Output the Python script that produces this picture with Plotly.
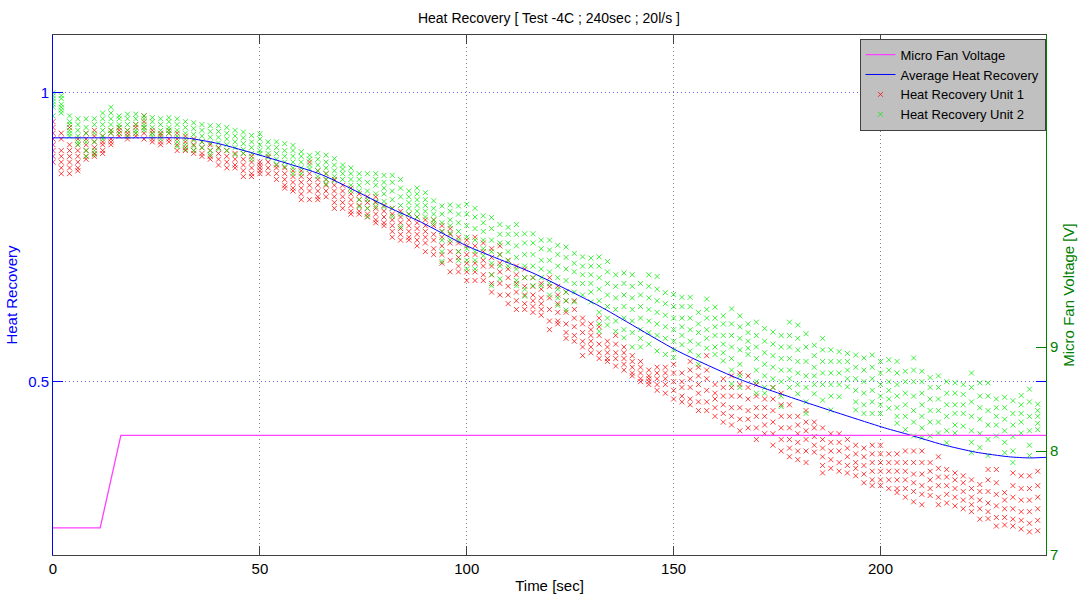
import plotly.graph_objects as go

# ---------------- data ----------------
sample_times = [0, 2, 4, 6, 8, 10, 12, 14, 16, 18, 20, 22, 24, 26, 28, 30, 32, 34, 36, 38,
                40, 42, 44, 46, 48, 50, 52, 54, 56, 58, 60, 62, 64, 66, 68, 70, 72, 74, 76, 78,
                80, 82, 84, 86, 88, 90, 92, 94, 96, 98, 100, 102, 104, 106, 108, 110, 112, 114, 116, 118,
                120, 122, 124, 126, 128, 130, 132, 134, 136, 138, 140, 142, 144, 146, 148, 150, 152, 154, 156, 158,
                160, 162, 164, 166, 168, 170, 172, 174, 176, 178, 180, 182, 184, 186, 188, 190, 192, 194, 196, 198,
                200, 202, 204, 206, 208, 210, 212, 214, 216, 218, 220, 222, 224, 226, 228, 230, 232, 234, 236, 238]

unit1_cols = [
    [0.95, 0.94, 0.93, 0.92, 0.91, 0.90, 0.89, 0.88],
    [0.93, 0.92, 0.90, 0.89, 0.88, 0.87, 0.86],
    [0.94, 0.91, 0.90, 0.89, 0.88, 0.87, 0.86],
    [0.92, 0.91, 0.90, 0.89, 0.88, 0.87, 0.865],
    [0.93, 0.92, 0.91, 0.90, 0.89, 0.885],
    [0.935, 0.925, 0.915, 0.905, 0.895, 0.89],
    [0.925, 0.915, 0.91, 0.90, 0.895],
    [0.935, 0.93, 0.92, 0.915, 0.91],
    [0.94, 0.935, 0.93, 0.925],
    [0.935, 0.93, 0.925, 0.92],
    [0.945, 0.94, 0.93, 0.925],
    [0.96, 0.95, 0.94, 0.93, 0.92],
    [0.935, 0.93, 0.92, 0.915],
    [0.93, 0.925, 0.915, 0.91],
    [0.935, 0.93, 0.92, 0.915],
    [0.93, 0.92, 0.91, 0.90],
    [0.925, 0.915, 0.905, 0.90],
    [0.92, 0.91, 0.90, 0.895],
    [0.915, 0.905, 0.895, 0.89],
    [0.91, 0.90, 0.89, 0.885],
    [0.905, 0.895, 0.885, 0.875],
    [0.90, 0.89, 0.88, 0.87],
    [0.895, 0.885, 0.875, 0.87],
    [0.895, 0.885, 0.875, 0.865, 0.855],
    [0.89, 0.88, 0.87, 0.86, 0.855],
    [0.88, 0.875, 0.87, 0.865, 0.86],
    [0.89, 0.88, 0.87, 0.86],
    [0.875, 0.87, 0.86, 0.85],
    [0.87, 0.86, 0.85, 0.84, 0.835],
    [0.865, 0.855, 0.845, 0.835, 0.83],
    [0.865, 0.855, 0.845, 0.835, 0.825, 0.815],
    [0.88, 0.86, 0.85, 0.84, 0.83, 0.815],
    [0.865, 0.85, 0.84, 0.83, 0.82, 0.815],
    [0.86, 0.85, 0.84, 0.83, 0.82],
    [0.85, 0.84, 0.83, 0.82, 0.81, 0.80],
    [0.84, 0.83, 0.82, 0.81, 0.80],
    [0.835, 0.825, 0.815, 0.805, 0.795, 0.79],
    [0.825, 0.815, 0.805, 0.795, 0.79],
    [0.82, 0.81, 0.80, 0.79, 0.785],
    [0.82, 0.81, 0.80, 0.79, 0.78, 0.775],
    [0.805, 0.795, 0.785, 0.775, 0.77],
    [0.80, 0.79, 0.78, 0.77, 0.76, 0.75],
    [0.795, 0.785, 0.775, 0.765, 0.755, 0.745],
    [0.79, 0.78, 0.77, 0.76, 0.75, 0.745],
    [0.785, 0.775, 0.765, 0.755, 0.745, 0.735],
    [0.78, 0.77, 0.76, 0.75, 0.74, 0.725],
    [0.78, 0.77, 0.755, 0.745, 0.73, 0.72],
    [0.77, 0.76, 0.75, 0.735, 0.72, 0.705],
    [0.765, 0.755, 0.74, 0.725, 0.71, 0.69],
    [0.75, 0.74, 0.725, 0.715, 0.70, 0.69],
    [0.745, 0.735, 0.72, 0.705, 0.69, 0.675],
    [0.75, 0.735, 0.72, 0.705, 0.69, 0.675],
    [0.74, 0.725, 0.71, 0.70, 0.685, 0.675],
    [0.73, 0.715, 0.70, 0.685, 0.67, 0.655],
    [0.735, 0.72, 0.705, 0.69, 0.67, 0.65],
    [0.71, 0.695, 0.68, 0.665, 0.65, 0.635],
    [0.70, 0.685, 0.67, 0.655, 0.64, 0.625],
    [0.695, 0.68, 0.665, 0.65, 0.635, 0.625],
    [0.68, 0.665, 0.65, 0.64, 0.63, 0.62],
    [0.67, 0.66, 0.645, 0.635, 0.625, 0.615],
    [0.68, 0.665, 0.645, 0.625, 0.605, 0.59],
    [0.665, 0.65, 0.635, 0.62, 0.605, 0.60],
    [0.655, 0.64, 0.62, 0.60, 0.585, 0.575],
    [0.64, 0.625, 0.61, 0.595, 0.58, 0.57],
    [0.61, 0.60, 0.585, 0.57, 0.56, 0.545],
    [0.60, 0.59, 0.58, 0.57, 0.56, 0.55],
    [0.61, 0.595, 0.58, 0.565, 0.55, 0.54],
    [0.57, 0.56, 0.55, 0.54, 0.535],
    [0.58, 0.565, 0.55, 0.54, 0.527],
    [0.56, 0.55, 0.54, 0.53, 0.52],
    [0.545, 0.535, 0.525, 0.515, 0.51],
    [0.535, 0.525, 0.515, 0.505, 0.50],
    [0.52, 0.51, 0.505, 0.50, 0.495],
    [0.525, 0.515, 0.505, 0.495, 0.485],
    [0.525, 0.515, 0.505, 0.495, 0.48],
    [0.53, 0.515, 0.50, 0.485, 0.47],
    [0.515, 0.50, 0.49, 0.475, 0.465],
    [0.535, 0.52, 0.505, 0.49, 0.47, 0.46],
    [0.525, 0.51, 0.495, 0.48, 0.465, 0.45],
    [0.545, 0.52, 0.505, 0.485, 0.465, 0.45],
    [0.495, 0.48, 0.47, 0.455, 0.44],
    [0.505, 0.49, 0.475, 0.46, 0.445, 0.43],
    [0.51, 0.49, 0.475, 0.455, 0.44, 0.425],
    [0.515, 0.495, 0.475, 0.455, 0.435, 0.415],
    [0.51, 0.49, 0.47, 0.45, 0.435, 0.42],
    [0.495, 0.475, 0.455, 0.44, 0.42, 0.40],
    [0.47, 0.455, 0.44, 0.425, 0.41],
    [0.49, 0.47, 0.45, 0.43, 0.41, 0.39],
    [0.48, 0.46, 0.44, 0.42, 0.40, 0.38],
    [0.46, 0.44, 0.42, 0.40, 0.385, 0.37],
    [0.44, 0.425, 0.41, 0.395, 0.38, 0.365],
    [0.45, 0.43, 0.415, 0.40, 0.38, 0.36],
    [0.43, 0.42, 0.405, 0.39, 0.378],
    [0.42, 0.40, 0.385, 0.37, 0.355, 0.342],
    [0.41, 0.395, 0.38, 0.365, 0.35],
    [0.41, 0.395, 0.38, 0.36, 0.345],
    [0.40, 0.385, 0.37, 0.355, 0.342],
    [0.39, 0.375, 0.36, 0.35, 0.337],
    [0.385, 0.37, 0.355, 0.34, 0.325],
    [0.39, 0.375, 0.36, 0.345, 0.33, 0.32],
    [0.39, 0.375, 0.36, 0.345, 0.33, 0.32],
    [0.375, 0.36, 0.345, 0.33, 0.315],
    [0.375, 0.36, 0.345, 0.33, 0.315, 0.308],
    [0.38, 0.36, 0.345, 0.33, 0.315, 0.30],
    [0.38, 0.36, 0.34, 0.325, 0.31, 0.292],
    [0.38, 0.36, 0.34, 0.32, 0.305, 0.287],
    [0.36, 0.345, 0.33, 0.315, 0.303],
    [0.37, 0.35, 0.335, 0.32, 0.30, 0.287],
    [0.348, 0.335, 0.32, 0.305, 0.29],
    [0.342, 0.33, 0.315, 0.30, 0.285],
    [0.337, 0.325, 0.31, 0.295, 0.28],
    [0.33, 0.315, 0.30, 0.287, 0.275],
    [0.322, 0.31, 0.295, 0.28, 0.262],
    [0.348, 0.33, 0.31, 0.29, 0.275, 0.263],
    [0.348, 0.325, 0.305, 0.285, 0.265, 0.25],
    [0.308, 0.295, 0.28, 0.265, 0.252],
    [0.342, 0.32, 0.30, 0.28, 0.262, 0.25],
    [0.337, 0.315, 0.295, 0.275, 0.26, 0.245],
    [0.337, 0.315, 0.295, 0.275, 0.255, 0.24],
    [0.345, 0.32, 0.30, 0.28, 0.26, 0.242],
]

unit2_cols = [
    [1.0, 0.995, 0.99, 0.985, 0.98, 0.975, 0.96],
    [0.995, 0.99, 0.98, 0.975, 0.97, 0.965],
    [0.96, 0.95, 0.945, 0.935, 0.93, 0.925],
    [0.955, 0.945, 0.935, 0.925, 0.915, 0.91],
    [0.955, 0.94, 0.93, 0.915, 0.90, 0.89],
    [0.955, 0.945, 0.93, 0.915, 0.90, 0.893],
    [0.965, 0.955, 0.945, 0.935, 0.925, 0.92],
    [0.975, 0.965, 0.955, 0.945, 0.935, 0.93],
    [0.96, 0.955, 0.945, 0.94, 0.93],
    [0.963, 0.955, 0.945, 0.935, 0.925],
    [0.963, 0.955, 0.945, 0.935, 0.93],
    [0.96, 0.955, 0.945, 0.94, 0.935],
    [0.957, 0.95, 0.94, 0.93, 0.925],
    [0.955, 0.945, 0.935, 0.928, 0.92],
    [0.957, 0.95, 0.94, 0.935, 0.93],
    [0.955, 0.945, 0.935, 0.925, 0.915, 0.907],
    [0.95, 0.94, 0.93, 0.92, 0.91, 0.902],
    [0.948, 0.938, 0.928, 0.918, 0.908, 0.90],
    [0.945, 0.935, 0.925, 0.915, 0.905],
    [0.943, 0.933, 0.923, 0.913, 0.90, 0.893],
    [0.943, 0.933, 0.923, 0.913, 0.903],
    [0.94, 0.93, 0.92, 0.91, 0.90],
    [0.935, 0.925, 0.915, 0.905, 0.893],
    [0.932, 0.922, 0.912, 0.902, 0.895],
    [0.926, 0.915, 0.905, 0.895, 0.885],
    [0.929, 0.92, 0.91, 0.90, 0.895],
    [0.915, 0.905, 0.895, 0.888],
    [0.915, 0.905, 0.895, 0.885, 0.876],
    [0.912, 0.90, 0.89, 0.88, 0.872],
    [0.909, 0.90, 0.89, 0.88, 0.87, 0.86],
    [0.898, 0.89, 0.88, 0.87, 0.86],
    [0.892, 0.885, 0.875, 0.868],
    [0.895, 0.885, 0.875, 0.865, 0.855],
    [0.892, 0.88, 0.87, 0.86, 0.85, 0.842],
    [0.886, 0.875, 0.865, 0.855, 0.848],
    [0.875, 0.868, 0.86, 0.85],
    [0.87, 0.86, 0.85, 0.84, 0.83],
    [0.86, 0.85, 0.84, 0.83, 0.815, 0.803],
    [0.86, 0.845, 0.83, 0.815, 0.80, 0.786],
    [0.86, 0.85, 0.84, 0.825, 0.812, 0.803],
    [0.857, 0.845, 0.835, 0.825, 0.812, 0.803],
    [0.857, 0.845, 0.83, 0.815, 0.80, 0.786],
    [0.85, 0.835, 0.82, 0.805, 0.79, 0.768],
    [0.83, 0.82, 0.81, 0.80, 0.79],
    [0.835, 0.825, 0.815, 0.805, 0.795, 0.785],
    [0.827, 0.815, 0.805, 0.795, 0.785],
    [0.813, 0.80, 0.79, 0.78, 0.774],
    [0.804, 0.79, 0.775, 0.76, 0.745, 0.725, 0.708],
    [0.806, 0.795, 0.78, 0.77, 0.757, 0.745],
    [0.804, 0.79, 0.775, 0.76, 0.745, 0.725, 0.71],
    [0.807, 0.79, 0.77, 0.75, 0.73, 0.71, 0.695],
    [0.80, 0.785, 0.765, 0.745, 0.725, 0.71, 0.695],
    [0.787, 0.775, 0.76, 0.745, 0.73, 0.718],
    [0.784, 0.765, 0.745, 0.725, 0.705, 0.685, 0.666],
    [0.772, 0.755, 0.74, 0.72, 0.70, 0.678],
    [0.767, 0.755, 0.74, 0.725, 0.71, 0.70],
    [0.772, 0.755, 0.735, 0.715, 0.695, 0.675, 0.666],
    [0.756, 0.74, 0.72, 0.70, 0.68, 0.66, 0.648],
    [0.756, 0.74, 0.72, 0.70, 0.68, 0.666],
    [0.745, 0.73, 0.71, 0.695, 0.68, 0.666],
    [0.745, 0.728, 0.71, 0.69, 0.67, 0.65],
    [0.736, 0.72, 0.70, 0.68, 0.66, 0.645, 0.632],
    [0.733, 0.715, 0.695, 0.675, 0.655, 0.64, 0.624],
    [0.722, 0.705, 0.69, 0.67, 0.655, 0.638],
    [0.716, 0.70, 0.685, 0.67, 0.65],
    [0.714, 0.70, 0.685, 0.67, 0.655, 0.638],
    [0.716, 0.70, 0.68, 0.66, 0.64, 0.62, 0.60, 0.587],
    [0.708, 0.69, 0.67, 0.65, 0.63, 0.61, 0.598],
    [0.685, 0.665, 0.645, 0.625, 0.605, 0.587],
    [0.688, 0.67, 0.65, 0.63, 0.61, 0.59, 0.576],
    [0.685, 0.665, 0.645, 0.625, 0.605, 0.585, 0.56],
    [0.67, 0.65, 0.63, 0.61, 0.59, 0.575, 0.56],
    [0.685, 0.665, 0.645, 0.625, 0.605, 0.585, 0.565],
    [0.682, 0.66, 0.64, 0.62, 0.60, 0.58, 0.553],
    [0.654, 0.635, 0.615, 0.595, 0.575, 0.547],
    [0.651, 0.63, 0.61, 0.59, 0.57, 0.555, 0.542],
    [0.646, 0.63, 0.61, 0.595, 0.58, 0.564],
    [0.646, 0.63, 0.61, 0.59, 0.57, 0.553],
    [0.62, 0.60, 0.585, 0.565, 0.545, 0.53],
    [0.643, 0.625, 0.61, 0.59, 0.575, 0.558],
    [0.629, 0.61, 0.595, 0.58, 0.56, 0.547],
    [0.614, 0.60, 0.58, 0.565, 0.55, 0.536],
    [0.626, 0.60, 0.58, 0.56, 0.54, 0.52, 0.496],
    [0.614, 0.595, 0.575, 0.555, 0.53, 0.51, 0.49],
    [0.60, 0.585, 0.57, 0.558, 0.547],
    [0.603, 0.58, 0.56, 0.54, 0.52, 0.50, 0.48],
    [0.592, 0.57, 0.55, 0.53, 0.51, 0.49, 0.48],
    [0.586, 0.565, 0.545, 0.525, 0.505, 0.49],
    [0.58, 0.56, 0.54, 0.52, 0.50, 0.475, 0.457],
    [0.603, 0.58, 0.56, 0.54, 0.52, 0.505, 0.49],
    [0.598, 0.575, 0.555, 0.535, 0.515, 0.495, 0.479],
    [0.583, 0.56, 0.535, 0.51, 0.49, 0.465, 0.445],
    [0.563, 0.545, 0.525, 0.51, 0.495, 0.479],
    [0.575, 0.555, 0.535, 0.515, 0.495, 0.468],
    [0.555, 0.535, 0.515, 0.495, 0.475, 0.451],
    [0.552, 0.535, 0.515, 0.495, 0.474],
    [0.549, 0.535, 0.52, 0.505, 0.491],
    [0.546, 0.525, 0.505, 0.485, 0.465, 0.451],
    [0.541, 0.52, 0.50, 0.48, 0.46, 0.445],
    [0.546, 0.525, 0.505, 0.485, 0.465, 0.445],
    [0.535, 0.515, 0.495, 0.475, 0.46, 0.445],
    [0.538, 0.52, 0.50, 0.485, 0.47, 0.454],
    [0.535, 0.515, 0.495, 0.475, 0.455, 0.44, 0.428],
    [0.518, 0.50, 0.48, 0.46, 0.44, 0.417],
    [0.541, 0.52, 0.50, 0.475, 0.45, 0.43, 0.406],
    [0.518, 0.50, 0.48, 0.46, 0.44, 0.42, 0.403],
    [0.507, 0.49, 0.47, 0.45, 0.43, 0.406],
    [0.51, 0.49, 0.47, 0.45, 0.43, 0.411],
    [0.50, 0.48, 0.46, 0.44, 0.415, 0.394],
    [0.498, 0.48, 0.46, 0.445, 0.425, 0.411],
    [0.495, 0.478, 0.46, 0.445, 0.423],
    [0.515, 0.49, 0.465, 0.44, 0.415, 0.395, 0.377],
    [0.498, 0.475, 0.455, 0.435, 0.41, 0.386],
    [0.498, 0.475, 0.45, 0.425, 0.40, 0.372],
    [0.47, 0.455, 0.44, 0.425, 0.406],
    [0.473, 0.455, 0.435, 0.415, 0.395, 0.377],
    [0.467, 0.445, 0.425, 0.405, 0.38, 0.36],
    [0.476, 0.46, 0.445, 0.43, 0.411],
    [0.487, 0.465, 0.44, 0.415, 0.39, 0.372],
    [0.461, 0.45, 0.44, 0.428, 0.417],
]

avg_time = [0, 10, 20, 30, 33, 40, 50, 65, 81, 89, 100, 116, 132, 151, 166, 182, 201, 207, 215, 223, 231, 236, 240]
avg_recovery = [0.922, 0.922, 0.922, 0.922, 0.921, 0.912, 0.892, 0.858, 0.802, 0.776, 0.735, 0.688, 0.631,
                0.553, 0.504, 0.464, 0.42, 0.408, 0.391, 0.378, 0.37, 0.368, 0.369]

fan_time = [0, 11.4, 16.4, 240]
fan_voltage = [7.26, 7.26, 8.15, 8.15]

x_ticks = [0, 50, 100, 150, 200]
left_ticks = [0.5, 1]
left_tick_text = ["0.5", "1"]
right_ticks = [7, 8, 9]


def flatten(times, cols):
    xs, ys = [], []
    for t, col in zip(times, cols):
        for v in col:
            xs.append(t)
            ys.append(v)
    return xs, ys


u1_x, u1_y = flatten(sample_times, unit1_cols)
u2_x, u2_y = flatten(sample_times, unit2_cols)

FONT = "Liberation Sans, Arial, Helvetica, sans-serif"
BLUE = "#0000ff"
GREEN = "#008000"
DARK = "#404040"
RED_M = "rgba(255,0,0,0.75)"
GREEN_M = "rgba(0,235,0,0.75)"

fig = go.Figure()

fig.add_trace(go.Scatter(
    x=u1_x, y=u1_y, mode="markers", name="Heat Recovery Unit 1", legendrank=3,
    marker=dict(symbol="x-thin", size=5, color=RED_M, line=dict(width=1, color=RED_M)),
))
fig.add_trace(go.Scatter(
    x=u2_x, y=u2_y, mode="markers", name="Heat Recovery Unit 2", legendrank=4,
    marker=dict(symbol="x-thin", size=5, color=GREEN_M, line=dict(width=1, color=GREEN_M)),
))
fig.add_trace(go.Scatter(
    x=avg_time, y=avg_recovery, mode="lines", name="Average Heat Recovery", legendrank=2,
    line=dict(color=BLUE, width=1, shape="spline", smoothing=0.6),
))
fig.add_trace(go.Scatter(
    x=fan_time, y=fan_voltage, mode="lines", name="Micro Fan Voltage", legendrank=1,
    yaxis="y2", line=dict(color="#ff40ff", width=1.3),
))

fig.update_layout(
    width=1087, height=604,
    margin=dict(l=52, r=40, t=35, b=41),
    paper_bgcolor="white", plot_bgcolor="white",
    font=dict(family=FONT, size=14, color="black"),
    title=dict(text="Heat Recovery [ Test -4C ; 240sec ; 20l/s ]", x=0.505, xanchor="center",
               y=1 - 18 / 604, yanchor="middle", font=dict(size=14, color="black")),
    showlegend=True,
    legend=dict(x=0.9995, y=0.993, xanchor="right", yanchor="top",
                bgcolor="#c0c0c0", bordercolor=DARK, borderwidth=1,
                font=dict(size=13, color="black"), traceorder="normal",
                itemwidth=30, tracegroupgap=0),
    xaxis=dict(
        range=[0, 240], tickvals=x_ticks, ticks="inside", ticklen=9, tickcolor=DARK,
        showline=True, linecolor=DARK, linewidth=1, mirror="ticks",
        showgrid=True, gridcolor="#808080", griddash="1px,3px", gridwidth=1, zeroline=False,
        tickfont=dict(size=15, color="black"),
        title=dict(text="Time [sec]", font=dict(size=15, color="black"), standoff=4),
    ),
    yaxis=dict(
        range=[0.2, 1.1], tickvals=left_ticks, ticktext=left_tick_text,
        ticks="inside", ticklen=10, tickcolor=BLUE,
        showline=True, linecolor=BLUE, linewidth=1, mirror="ticks",
        showgrid=True, gridcolor="#6666ff", griddash="1px,3px", gridwidth=1, zeroline=False,
        tickfont=dict(size=15, color=BLUE),
        title=dict(text="Heat Recovery", font=dict(size=15, color=BLUE), standoff=6),
    ),
    yaxis2=dict(
        range=[7, 12], tickvals=right_ticks, overlaying="y", side="right",
        ticks="inside", ticklen=10, tickcolor=GREEN,
        showline=True, linecolor=GREEN, linewidth=1,
        showgrid=False, zeroline=False,
        tickfont=dict(size=15, color=GREEN),
        title=dict(text="Micro Fan Voltage [V]", font=dict(size=15, color=GREEN), standoff=6),
    ),
)

fig.write_html("out.html")
